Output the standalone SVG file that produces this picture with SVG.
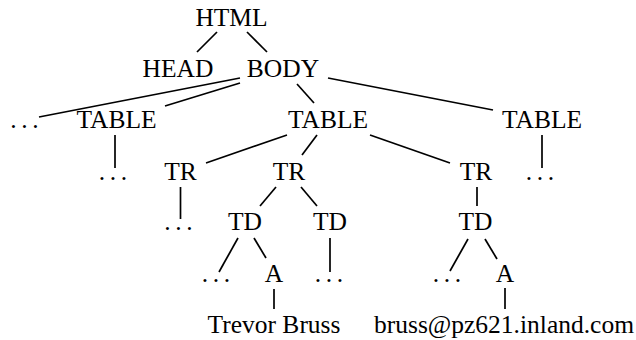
<svg xmlns="http://www.w3.org/2000/svg" width="636" height="340" viewBox="0 0 636 340">
<style>
text { font-family: "Liberation Serif", "DejaVu Serif", serif; font-size: 25.5px; fill: #000; text-anchor: middle; }
text.d { letter-spacing: 4.6px; }
.e line { stroke: #000; stroke-width: 1.7; stroke-linecap: butt; }
</style>
<rect width="636" height="340" fill="#fff"/>
<g class="e" id="connectors">
<line x1="217" y1="32" x2="197" y2="52"/>
<line x1="247" y1="32" x2="267" y2="52"/>
<line x1="240" y1="78" x2="39" y2="117"/>
<line x1="240" y1="83" x2="165" y2="106"/>
<line x1="297" y1="84" x2="314" y2="103"/>
<line x1="328" y1="78" x2="493" y2="110"/>
<line x1="115" y1="135" x2="115" y2="168"/>
<line x1="287" y1="135" x2="206" y2="163"/>
<line x1="317" y1="135" x2="302" y2="155"/>
<line x1="370" y1="135" x2="450" y2="163"/>
<line x1="542" y1="135" x2="542" y2="168"/>
<line x1="180.5" y1="187" x2="180.5" y2="219"/>
<line x1="276" y1="187" x2="260" y2="206"/>
<line x1="301" y1="187" x2="317" y2="206"/>
<line x1="477" y1="187" x2="477" y2="206"/>
<line x1="238" y1="238" x2="219" y2="272"/>
<line x1="254" y1="238" x2="266" y2="258"/>
<line x1="330" y1="238" x2="330" y2="272"/>
<line x1="468" y1="239" x2="450" y2="271"/>
<line x1="485" y1="239" x2="497" y2="259"/>
<line x1="274" y1="289" x2="274" y2="309"/>
<line x1="505" y1="288" x2="505" y2="309"/>
</g>
<g id="html"><text x="231.5" y="26">HTML</text></g>
<g id="head"><text x="178" y="77">HEAD</text></g>
<g id="body"><text x="283" y="77">BODY</text></g>
<g id="dots1"><text class="d" x="26.8" y="128">...</text></g>
<g id="table1"><text x="116.5" y="128">TABLE</text></g>
<g id="table2"><text x="328" y="128">TABLE</text></g>
<g id="table3"><text x="542" y="128">TABLE</text></g>
<g id="dots2"><text class="d" x="115.3" y="179.5">...</text></g>
<g id="tr1"><text x="180.5" y="179.5">TR</text></g>
<g id="tr2"><text x="289" y="179.5">TR</text></g>
<g id="tr3"><text x="476" y="179.5">TR</text></g>
<g id="dots3"><text class="d" x="542.3" y="179.5">...</text></g>
<g id="dots4"><text class="d" x="180.8" y="230">...</text></g>
<g id="td1"><text x="245" y="230">TD</text></g>
<g id="td2"><text x="330" y="230">TD</text></g>
<g id="td3"><text x="475.5" y="230">TD</text></g>
<g id="dots5"><text class="d" x="218.3" y="282">...</text></g>
<g id="a1"><text x="274" y="282">A</text></g>
<g id="dots6"><text class="d" x="331.3" y="282">...</text></g>
<g id="dots7"><text class="d" x="449.3" y="282">...</text></g>
<g id="a2"><text x="505" y="282">A</text></g>
<g id="text1"><text x="274" y="333">Trevor Bruss</text></g>
<g id="text2"><text x="504" y="333">bruss@pz621.inland.com</text></g>
</svg>
